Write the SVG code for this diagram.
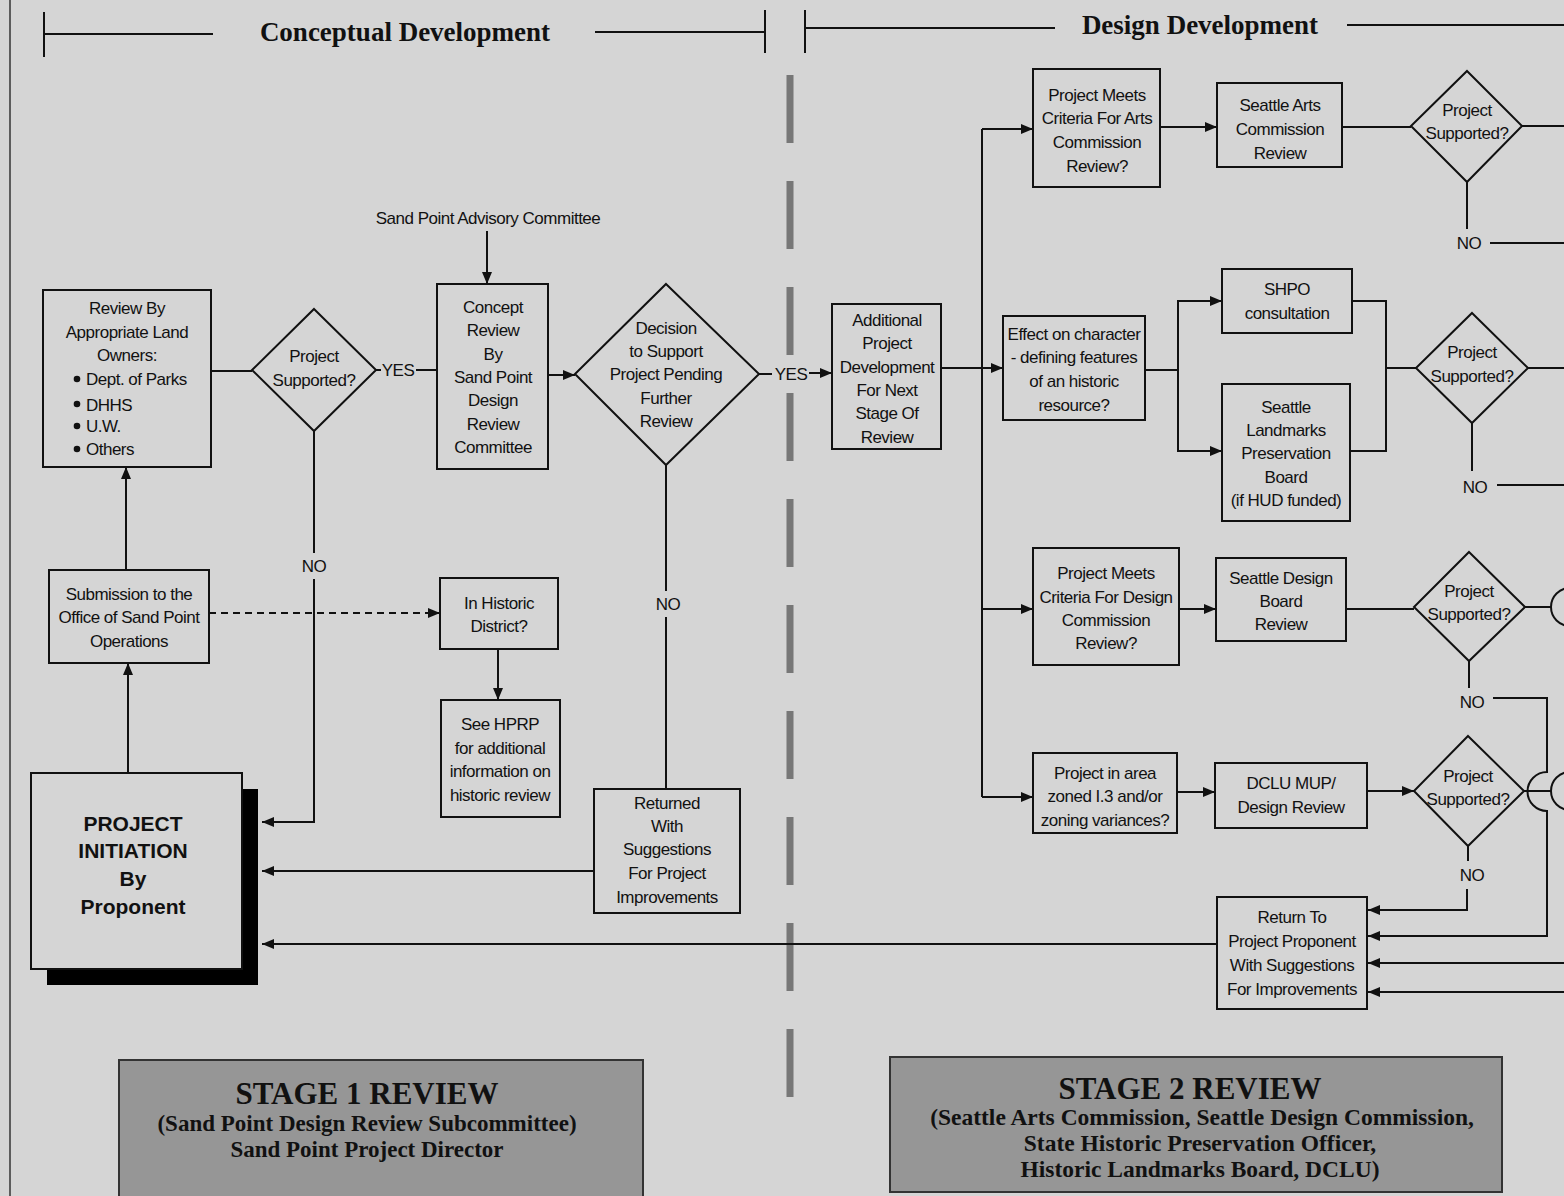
<svg xmlns="http://www.w3.org/2000/svg" width="1564" height="1196" viewBox="0 0 1564 1196">
<defs>
<style>
.t{font-family:"Liberation Sans",Arial,sans-serif;font-size:17px;letter-spacing:-0.5px;text-anchor:middle;fill:#111}
.ts{text-anchor:start}
.b{font-weight:bold;font-size:21px;letter-spacing:0}
.h{font-family:"Liberation Serif","Times New Roman",serif;font-weight:bold;font-size:27px;text-anchor:middle;fill:#111}
.sh{font-family:"Liberation Serif","Times New Roman",serif;font-weight:bold;text-anchor:middle;fill:#111}
.box{fill:none;stroke:#111;stroke-width:2}
.ln{fill:none;stroke:#111;stroke-width:2}
.ar{fill:none;stroke:#111;stroke-width:2;marker-end:url(#arr)}
.dash{fill:none;stroke:#777;stroke-width:7;stroke-dasharray:68 38}
.dot{fill:#111}
</style>
<marker id="arr" viewBox="0 0 12 10" refX="12" refY="5" markerWidth="12" markerHeight="10" markerUnits="userSpaceOnUse" orient="auto">
<path d="M0,0 L12,5 L0,10 z" fill="#111"/>
</marker>
</defs>
<rect x="0" y="0" width="1564" height="1196" fill="#d5d5d5"/>
<line x1="10" y1="0" x2="10" y2="1196" stroke="#333" stroke-width="1.5"/>

<g id="header">
<path class="ln" d="M44,12 V57 M44,34 H213 M595,32 H765 M765,10 V53 M805,10 V53 M805,28 H1055 M1347,25 H1564"/>
<text class="h" x="405" y="41">Conceptual Development</text>
<text class="h" x="1200" y="34">Design Development</text>
</g>

<g id="divider">
<line class="dash" x1="790" y1="75" x2="790" y2="1100"/>
</g>

<g id="connectors">
<line class="ln" x1="211" y1="371" x2="252" y2="371"/>
<line class="ln" x1="376" y1="370" x2="381" y2="370"/>
<text class="t" x="398" y="376">YES</text>
<line class="ln" x1="416" y1="370" x2="437" y2="370"/>
<text class="t" x="488" y="224">Sand Point Advisory Committee</text>
<line class="ar" x1="487" y1="231" x2="487" y2="284"/>
<line class="ar" x1="548" y1="375" x2="575" y2="375"/>
<line class="ln" x1="759" y1="374" x2="772" y2="374"/>
<text class="t" x="791" y="380">YES</text>
<line class="ar" x1="809" y1="373" x2="832" y2="373"/>
<line class="ln" x1="666" y1="465" x2="666" y2="591"/>
<text class="t" x="668" y="610">NO</text>
<line class="ln" x1="666" y1="617" x2="666" y2="789"/>
<line class="ln" x1="314" y1="431" x2="314" y2="553"/>
<text class="t" x="314" y="572">NO</text>
<path class="ar" d="M314,579 V822 H262"/>
<line class="ar" x1="594" y1="871" x2="262" y2="871"/>
<line class="ar" x1="1217" y1="944" x2="262" y2="944"/>
<line class="ar" x1="128" y1="773" x2="128" y2="663"/>
<line class="ar" x1="126" y1="570" x2="126" y2="467"/>
<line class="ar" x1="209" y1="613" x2="440" y2="613" stroke-dasharray="7 5"/>
<line class="ar" x1="498" y1="649" x2="498" y2="700"/>
<line class="ar" x1="941" y1="368" x2="1003" y2="368"/>
<path class="ln" d="M982,129 V797"/>
<line class="ar" x1="982" y1="129" x2="1033" y2="129"/>
<line class="ar" x1="982" y1="609" x2="1033" y2="609"/>
<line class="ar" x1="982" y1="797" x2="1033" y2="797"/>
<line class="ar" x1="1160" y1="127" x2="1217" y2="127"/>
<line class="ln" x1="1342" y1="127" x2="1411" y2="127"/>
<line class="ln" x1="1522" y1="126" x2="1564" y2="126"/>
<line class="ln" x1="1467" y1="182" x2="1467" y2="229"/>
<text class="t" x="1469" y="249">NO</text>
<line class="ln" x1="1490" y1="243" x2="1564" y2="243"/>
<line class="ln" x1="1145" y1="370" x2="1178" y2="370"/>
<path class="ar" d="M1178,370 V301 H1222"/>
<path class="ar" d="M1178,370 V451 H1222"/>
<path class="ln" d="M1352,301 H1386 V451 H1350 M1386,368 H1416"/>
<line class="ln" x1="1528" y1="368" x2="1564" y2="368"/>
<line class="ln" x1="1472" y1="423" x2="1472" y2="471"/>
<text class="t" x="1475" y="493">NO</text>
<line class="ln" x1="1497" y1="485" x2="1564" y2="485"/>
<line class="ar" x1="1179" y1="609" x2="1216" y2="609"/>
<line class="ln" x1="1346" y1="609" x2="1414" y2="609"/>
<line class="ln" x1="1525" y1="607" x2="1551" y2="607"/>
<circle class="ln" cx="1570" cy="607" r="19"/>
<line class="ln" x1="1469" y1="661" x2="1469" y2="688"/>
<text class="t" x="1472" y="708">NO</text>
<path class="ar" d="M1493,698 H1547 V772 A19.5 19.5 0 0 0 1547,811 V936 H1368"/>
<line class="ar" x1="1177" y1="792" x2="1215" y2="792"/>
<line class="ar" x1="1367" y1="791" x2="1414" y2="791"/>
<line class="ln" x1="1524" y1="791" x2="1551" y2="791"/>
<circle class="ln" cx="1570" cy="791" r="19"/>
<line class="ln" x1="1468" y1="846" x2="1468" y2="861"/>
<text class="t" x="1472" y="881">NO</text>
<path class="ar" d="M1467,889 V910 H1368"/>
<line class="ar" x1="1564" y1="963" x2="1368" y2="963"/>
<line class="ar" x1="1564" y1="992" x2="1368" y2="992"/>
</g>

<g id="review-land-owners">
<rect class="box" x="43" y="290" width="168" height="177"/>
<text class="t" x="127" y="314">Review By</text>
<text class="t" x="127" y="338">Appropriate Land</text>
<text class="t" x="127" y="361">Owners:</text>
<circle class="dot" cx="77" cy="379" r="3.3"/>
<circle class="dot" cx="77" cy="404" r="3.3"/>
<circle class="dot" cx="77" cy="426" r="3.3"/>
<circle class="dot" cx="77" cy="449" r="3.3"/>
<text class="t ts" x="86" y="385">Dept. of Parks</text>
<text class="t ts" x="86" y="411">DHHS</text>
<text class="t ts" x="86" y="432">U.W.</text>
<text class="t ts" x="86" y="455">Others</text>
</g>

<g id="supported-1">
<polygon class="box" points="314,309 376,370 314,431 252,370"/>
<text class="t" x="314" y="362">Project</text>
<text class="t" x="314" y="386">Supported?</text>
</g>

<g id="concept-review">
<rect class="box" x="437" y="284" width="111" height="185"/>
<text class="t" x="493" y="313">Concept</text>
<text class="t" x="493" y="336">Review</text>
<text class="t" x="493" y="360">By</text>
<text class="t" x="493" y="383">Sand Point</text>
<text class="t" x="493" y="406">Design</text>
<text class="t" x="493" y="430">Review</text>
<text class="t" x="493" y="453">Committee</text>
</g>

<g id="decision">
<polygon class="box" points="666,284 759,374 666,465 575,374"/>
<text class="t" x="666" y="334">Decision</text>
<text class="t" x="666" y="357">to Support</text>
<text class="t" x="666" y="380">Project Pending</text>
<text class="t" x="666" y="404">Further</text>
<text class="t" x="666" y="427">Review</text>
</g>

<g id="submission">
<rect class="box" x="49" y="570" width="160" height="93"/>
<text class="t" x="129" y="600">Submission to the</text>
<text class="t" x="129" y="623">Office of Sand Point</text>
<text class="t" x="129" y="647">Operations</text>
</g>

<g id="historic-district">
<rect class="box" x="440" y="578" width="118" height="71"/>
<text class="t" x="499" y="609">In Historic</text>
<text class="t" x="499" y="632">District?</text>
</g>

<g id="see-hprp">
<rect class="box" x="441" y="700" width="119" height="117"/>
<text class="t" x="500" y="730">See HPRP</text>
<text class="t" x="500" y="754">for additional</text>
<text class="t" x="500" y="777">information on</text>
<text class="t" x="500" y="801">historic review</text>
</g>

<g id="returned">
<rect class="box" x="594" y="789" width="146" height="124"/>
<text class="t" x="667" y="809">Returned</text>
<text class="t" x="667" y="832">With</text>
<text class="t" x="667" y="855">Suggestions</text>
<text class="t" x="667" y="879">For Project</text>
<text class="t" x="667" y="903">Improvements</text>
</g>

<g id="project-initiation">
<rect x="47" y="789" width="211" height="196" fill="#000"/>
<rect x="31" y="773" width="211" height="196" fill="#d5d5d5" stroke="#111" stroke-width="2"/>
<text class="t b" x="133" y="831">PROJECT</text>
<text class="t b" x="133" y="858">INITIATION</text>
<text class="t b" x="133" y="886">By</text>
<text class="t b" x="133" y="914">Proponent</text>
</g>

<g id="additional-development">
<rect class="box" x="832" y="304" width="109" height="145"/>
<text class="t" x="887" y="326">Additional</text>
<text class="t" x="887" y="349">Project</text>
<text class="t" x="887" y="373">Development</text>
<text class="t" x="887" y="396">For Next</text>
<text class="t" x="887" y="419">Stage Of</text>
<text class="t" x="887" y="443">Review</text>
</g>

<g id="arts-criteria">
<rect class="box" x="1033" y="69" width="127" height="118"/>
<text class="t" x="1097" y="101">Project Meets</text>
<text class="t" x="1097" y="124">Criteria For Arts</text>
<text class="t" x="1097" y="148">Commission</text>
<text class="t" x="1097" y="172">Review?</text>
</g>

<g id="arts-review">
<rect class="box" x="1217" y="83" width="125" height="84"/>
<text class="t" x="1280" y="111">Seattle Arts</text>
<text class="t" x="1280" y="135">Commission</text>
<text class="t" x="1280" y="159">Review</text>
</g>

<g id="supported-arts">
<polygon class="box" points="1467,71 1522,126 1467,182 1411,126"/>
<text class="t" x="1467" y="116">Project</text>
<text class="t" x="1467" y="139">Supported?</text>
</g>

<g id="effect-character">
<rect class="box" x="1003" y="316" width="142" height="104"/>
<text class="t" x="1074" y="340">Effect on character</text>
<text class="t" x="1074" y="363">- defining features</text>
<text class="t" x="1074" y="387">of an historic</text>
<text class="t" x="1074" y="411">resource?</text>
</g>

<g id="shpo">
<rect class="box" x="1222" y="269" width="130" height="64"/>
<text class="t" x="1287" y="295">SHPO</text>
<text class="t" x="1287" y="319">consultation</text>
</g>

<g id="landmarks-board">
<rect class="box" x="1222" y="384" width="128" height="137"/>
<text class="t" x="1286" y="413">Seattle</text>
<text class="t" x="1286" y="436">Landmarks</text>
<text class="t" x="1286" y="459">Preservation</text>
<text class="t" x="1286" y="483">Board</text>
<text class="t" x="1286" y="506">(if HUD funded)</text>
</g>

<g id="supported-historic">
<polygon class="box" points="1472,313 1528,368 1472,423 1416,368"/>
<text class="t" x="1472" y="358">Project</text>
<text class="t" x="1472" y="382">Supported?</text>
</g>

<g id="design-criteria">
<rect class="box" x="1033" y="548" width="146" height="117"/>
<text class="t" x="1106" y="579">Project Meets</text>
<text class="t" x="1106" y="603">Criteria For Design</text>
<text class="t" x="1106" y="626">Commission</text>
<text class="t" x="1106" y="649">Review?</text>
</g>

<g id="design-board">
<rect class="box" x="1216" y="558" width="130" height="83"/>
<text class="t" x="1281" y="584">Seattle Design</text>
<text class="t" x="1281" y="607">Board</text>
<text class="t" x="1281" y="630">Review</text>
</g>

<g id="supported-design">
<polygon class="box" points="1469,552 1525,607 1469,661 1414,607"/>
<text class="t" x="1469" y="597">Project</text>
<text class="t" x="1469" y="620">Supported?</text>
</g>

<g id="zoning">
<rect class="box" x="1033" y="753" width="144" height="80"/>
<text class="t" x="1105" y="779">Project in area</text>
<text class="t" x="1105" y="802">zoned I.3 and/or</text>
<text class="t" x="1105" y="826">zoning variances?</text>
</g>

<g id="dclu">
<rect class="box" x="1215" y="763" width="152" height="65"/>
<text class="t" x="1291" y="789">DCLU MUP/</text>
<text class="t" x="1291" y="813">Design Review</text>
</g>

<g id="supported-dclu">
<polygon class="box" points="1468,736 1524,791 1468,846 1414,791"/>
<text class="t" x="1468" y="782">Project</text>
<text class="t" x="1468" y="805">Supported?</text>
</g>

<g id="return-proponent">
<rect class="box" x="1217" y="897" width="150" height="112"/>
<text class="t" x="1292" y="923">Return To</text>
<text class="t" x="1292" y="947">Project Proponent</text>
<text class="t" x="1292" y="971">With Suggestions</text>
<text class="t" x="1292" y="995">For Improvements</text>
</g>

<g id="stage-1">
<rect x="119" y="1060" width="524" height="140" fill="#969696" stroke="#333" stroke-width="2"/>
<text class="sh" x="367" y="1104" font-size="31">STAGE 1 REVIEW</text>
<text class="sh" x="367" y="1131" font-size="23">(Sand Point Design Review Subcommittee)</text>
<text class="sh" x="367" y="1157" font-size="23">Sand Point Project Director</text>
</g>

<g id="stage-2">
<rect x="890" y="1057" width="612" height="135" fill="#969696" stroke="#333" stroke-width="2"/>
<text class="sh" x="1190" y="1099" font-size="31">STAGE 2 REVIEW</text>
<text class="sh" x="1202" y="1125" font-size="23.5">(Seattle Arts Commission, Seattle Design Commission,</text>
<text class="sh" x="1200" y="1151" font-size="23.5">State Historic Preservation Officer,</text>
<text class="sh" x="1200" y="1177" font-size="23.5">Historic Landmarks Board, DCLU)</text>
</g>
</svg>
